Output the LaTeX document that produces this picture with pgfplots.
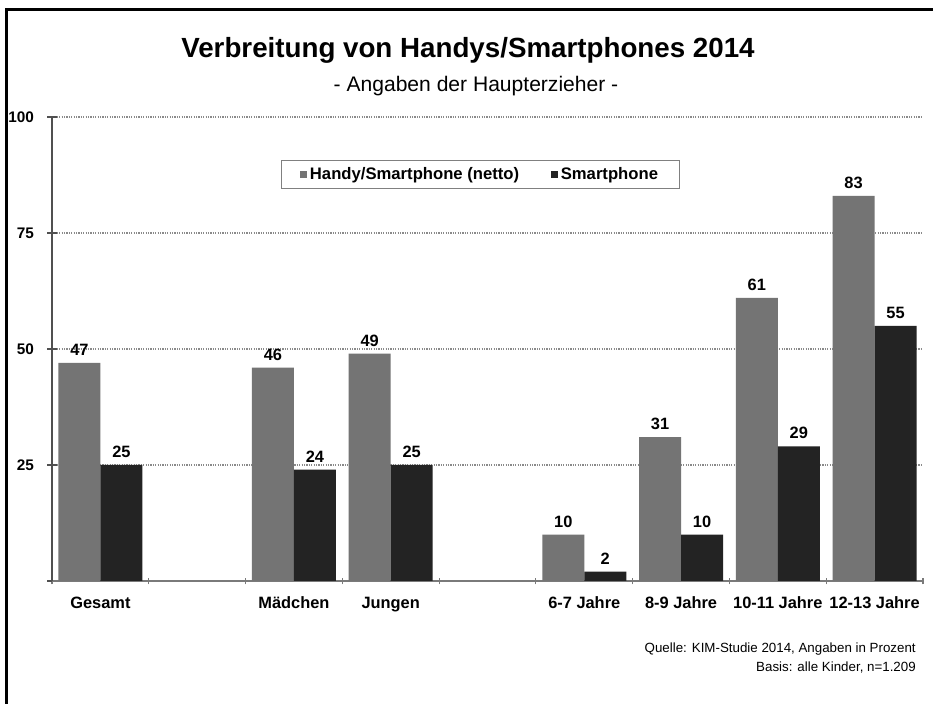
\documentclass[border=0pt]{standalone}
\usepackage{fontspec}
\setmainfont{Liberation Sans}
\usepackage{pgfplots}
\pgfplotsset{compat=1.18}
\definecolor{barA}{HTML}{747474}
\definecolor{barB}{HTML}{232323}
\definecolor{gridc}{HTML}{8A8A8A}
\definecolor{xaxc}{HTML}{7A7A7A}
\definecolor{yaxc}{HTML}{505050}
\begin{document}
\begin{tikzpicture}
\useasboundingbox (0,0) rectangle (699.75pt,528pt);
\fill[white] (0,0) rectangle (699.75pt,528pt);
\begin{axis}[
  at={(39pt,92.25pt)}, anchor=south west,
  scale only axis, width=653.25pt, height=348pt,
  ybar=0pt, bar width=31.5pt,
  xmin=-0.5, xmax=8.5, ymin=0, ymax=100,
  axis x line=bottom, axis y line=left,
  x axis line style={draw=xaxc, line width=1.1pt, -},
  y axis line style={draw=yaxc, line width=0.9pt, -},
  xtick={0,2,3,5,6,7,8},
  xticklabels={Gesamt,Mädchen,Jungen,6-7 Jahre,8-9 Jahre,10-11 Jahre,12-13 Jahre},
  minor xtick={-0.5,0.5,...,8.5},
  ytick={0,25,50,75,100}, yticklabels={,25,50,75,100},
  tick align=center,
  major tick length=7pt, minor tick length=5pt,
  major x tick style={draw=none},
  minor x tick style={draw=xaxc, line width=0.9pt},
  major y tick style={draw=yaxc, line width=0.8pt},
  ymajorgrids,
  grid style={draw=gridc, line width=0.9pt, dash pattern=on 0.9pt off 0.9pt},
  /pgf/number format/assume math mode=true,
  yticklabel style={font=\fontsize{11.5}{13}\selectfont\bfseries, xshift=-6.5pt},
  xticklabel style={font=\fontsize{12.3}{14}\selectfont\bfseries, yshift=-5pt},
  nodes near coords,
  every node near coord/.append style={font=\fontsize{12.3}{14}\selectfont\bfseries, text=black, yshift=2pt},
  legend style={at={(0.492,0.876)}, anchor=center, legend columns=2,
    draw=gray, line width=0.9pt,
    font=\fontsize{12.5}{14}\selectfont\bfseries,
    inner xsep=14pt, inner ysep=3pt,
    /tikz/every even column/.append style={column sep=22pt}},
]
\addplot[fill=barA, draw=none, legend image code/.code={\fill[barA] (0pt,-2.6pt) rectangle (5.2pt,2.6pt);}]
  coordinates {(0,47) (2,46) (3,49) (5,10) (6,31) (7,61) (8,83)};
\addplot[fill=barB, draw=none, legend image code/.code={\fill[barB] (0pt,-2.6pt) rectangle (5.2pt,2.6pt);}]
  coordinates {(0,25) (2,24) (3,25) (5,2) (6,10) (7,29) (8,55)};
\legend{Handy/Smartphone (netto), Smartphone}
\end{axis}
\node[anchor=base, font=\fontsize{20.8}{24}\selectfont\bfseries] at (351pt,484.5pt) {Verbreitung von Handys/Smartphones 2014};
\node[anchor=base, font=\fontsize{15.8}{18}\selectfont] at (357pt,459pt) {- Angaben der Haupterzieher -};
\node[anchor=base east, inner sep=0pt, font=\fontsize{10}{12}\selectfont] at (687pt,38.25pt) {Quelle: KIM-Studie 2014, Angaben in Prozent};
\node[anchor=base east, inner sep=0pt, font=\fontsize{10}{12}\selectfont] at (687pt,24pt) {Basis: alle Kinder, n=1.209};
\draw[line width=1.8pt] (5pt,0) -- (5pt,520.9pt) -- (699.75pt,520.9pt);
\end{tikzpicture}
\end{document}
